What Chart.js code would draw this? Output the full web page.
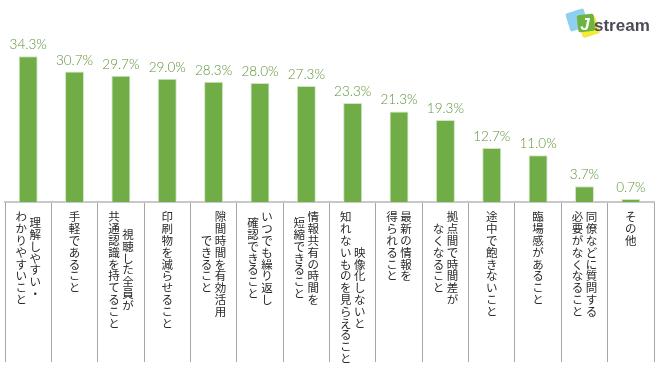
<!DOCTYPE html>
<html>
<head>
<meta charset="utf-8">
<script src="https://cdn.jsdelivr.net/npm/chart.js@4"></script>
<style>
  html, body { margin: 0; padding: 0; background: #fff; }
  #wrap { width: 660px; height: 377px; }
</style>
</head>
<body>
<div id="wrap"><canvas id="myChart" width="660" height="377"></canvas></div>
<script>
// category labels, one entry per bar, each split into vertical columns (right to left)
const categoryLines = [
    ['理解しやすい・', 'わかりやすいこと'],
    ['手軽であること'],
    ['視聴した全員が', '共通認識を持てること'],
    ['印刷物を減らせること'],
    ['隙間時間を有効活用', 'できること'],
    ['いつでも繰り返し', '確認できること'],
    ['情報共有の時間を', '短縮できること'],
    ['映像化しないと', '知れないものを見らえること'],
    ['最新の情報を', '得られること'],
    ['拠点間で時間差が', 'なくなること'],
    ['途中で飽きないこと'],
    ['臨場感があること'],
    ['同僚などに質問する', '必要がなくなること'],
    ['その他'],
];
const categories = categoryLines.map((lines) => lines.join(''));
const values = [34.3, 30.7, 29.7, 29.0, 28.3, 28.0, 27.3, 23.3, 21.3, 19.3, 12.7, 11.0, 3.7, 0.7];
const yMax = 40;

const ctx = document.getElementById('myChart').getContext('2d');

// percentage labels above each bar
const valueLabels = {
    id: 'valueLabels',
    afterDatasetsDraw(chart) {
        const c = chart.ctx;
        const meta = chart.getDatasetMeta(0);
        c.save();
        c.font = '300 13.5px Lato, "Liberation Sans", sans-serif';
        c.fillStyle = '#5f9238';
        c.textAlign = 'center';
        c.textBaseline = 'alphabetic';
        meta.data.forEach((bar, i) => {
            c.fillText(values[i].toFixed(1) + '%', bar.x, bar.y - 7);
        });
        c.restore();
    },
};

// vertical japanese text inside the boxes under the axis
const verticalLabels = {
    id: 'verticalLabels',
    afterDraw(chart) {
        const c = chart.ctx;
        const xScale = chart.scales.x;
        const top = chart.chartArea.bottom + 15;
        const pitch = 11.8;
        const colGap = 14;
        c.save();
        c.font = '11.5px "Noto Sans CJK JP", sans-serif';
        c.fillStyle = '#2a2a2a';
        c.textAlign = 'center';
        c.textBaseline = 'middle';
        categoryLines.forEach((lines, i) => {
            const cx = xScale.getPixelForValue(i);
            const maxLen = Math.max(...lines.map((l) => [...l].length));
            lines.forEach((line, j) => {
                const chars = [...line];
                const x = cx + ((lines.length - 1) / 2 - j) * colGap;
                const offset = (maxLen - chars.length) * pitch / 2;
                chars.forEach((ch, k) => {
                    c.fillText(ch, x, top + offset + k * pitch);
                });
            });
        });
        c.restore();
    },
};

// small Jstream mark in the top right corner
const logo = {
    id: 'logo',
    afterDraw(chart) {
        const c = chart.ctx;
        c.save();
        const square = (x, y, s, angle, color) => {
            c.save();
            c.translate(x, y);
            c.rotate(angle);
            c.fillStyle = color;
            c.beginPath();
            c.roundRect(-s / 2, -s / 2, s, s, 2);
            c.fill();
            c.restore();
        };
        square(577, 20, 19, -0.3, '#8fd0f0');
        square(589, 27, 18, -0.3, '#f5ea3c');
        square(586, 23, 17, -0.12, '#6cb33f');
        c.fillStyle = '#fff';
        c.font = 'italic bold 17px "Liberation Sans", Arial, sans-serif';
        c.textAlign = 'center';
        c.textBaseline = 'alphabetic';
        c.fillText('J', 585, 30);
        c.fillStyle = '#4c4c58';
        c.font = 'bold 17px "Liberation Sans", Arial, sans-serif';
        c.textAlign = 'left';
        c.fillText('stream', 594, 31);
        c.restore();
    },
};

const myChart = new Chart(ctx, {
    type: 'bar',
    data: {
        labels: categories,
        datasets: [
            {
                data: values,
                backgroundColor: '#70ad47',
                borderColor: '#d2e6c3',
                borderWidth: { top: 1, left: 1, right: 1, bottom: 0 },
                borderSkipped: 'bottom',
                barPercentage: 0.41,
                categoryPercentage: 1,
            },
        ],
    },
    options: {
        responsive: false,
        animation: false,
        layout: {
            padding: { top: 32, left: 5, right: 6, bottom: 15 },
        },
        plugins: {
            legend: { display: false },
            tooltip: { enabled: false },
        },
        scales: {
            x: {
                offset: true,
                ticks: { display: false },
                grid: {
                    offset: true,
                    drawOnChartArea: false,
                    drawTicks: true,
                    tickLength: 160,
                    color: '#a6a6a6',
                    lineWidth: 1,
                },
                border: { color: '#c8c8c8', width: 2 },
            },
            y: {
                display: false,
                min: 0,
                max: yMax,
            },
        },
    },
    plugins: [valueLabels, verticalLabels, logo],
});
</script>
</body>
</html>
